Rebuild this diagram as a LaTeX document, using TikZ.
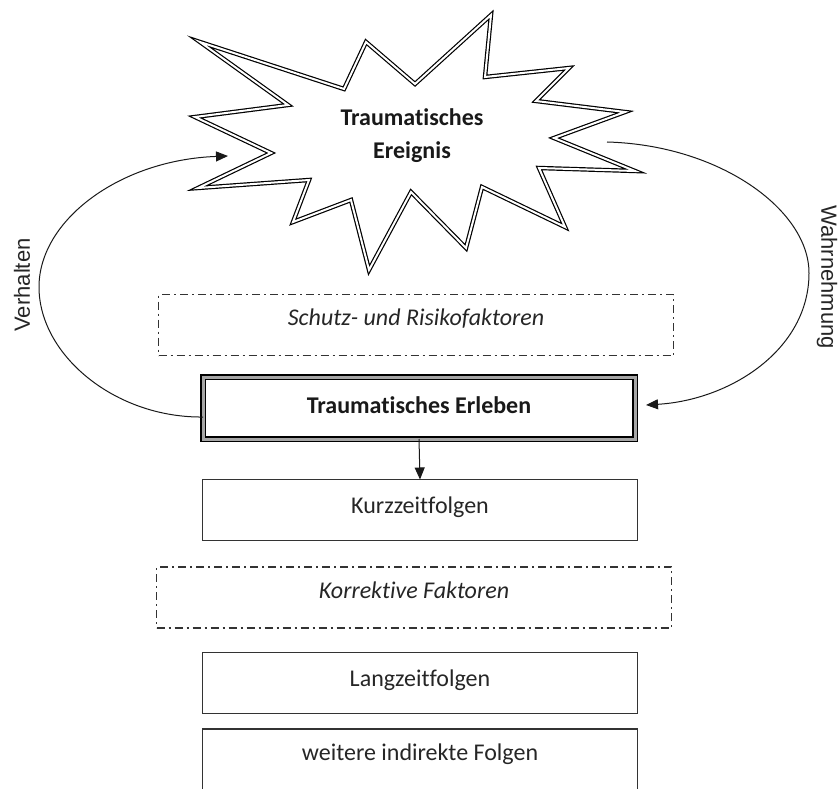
\documentclass[tikz,border=0pt]{standalone}
\usepackage{fontspec}
\setmainfont{Carlito}[Ligatures=CommonOff]
\newfontfamily\arialfont{Liberation Sans}
\usetikzlibrary{arrows.meta}
\begin{document}
\begin{tikzpicture}[x=1pt,y=-1pt,
  box/.style={draw=black!80, line width=1.3pt, minimum width=435pt, minimum height=61pt, inner sep=0pt, outer sep=0pt, text=black!85, font=\fontsize{24}{29}\selectfont, text depth=8pt},
  dashbox/.style={draw=black!80, line width=1.2pt, dash pattern=on 8pt off 4pt on 2pt off 4pt, minimum width=515pt, minimum height=61pt, inner sep=0pt, outer sep=0pt, text=black!85, font=\fontsize{24}{29}\selectfont\itshape, text depth=8pt},
  erlbox/.style={draw=black, line width=1.5pt, double=gray!70, double distance=3pt, fill=white, minimum width=432pt, minimum height=62pt, inner sep=0pt, outer sep=0pt, text=black!90, font=\fontsize{24}{29}\selectfont\bfseries, text depth=8pt},
  arr/.style={line width=1pt, draw=black!90, -{Triangle[length=12pt,width=10pt]}},
  side/.style={text=black!85, font=\arialfont\fontsize{22}{26}\selectfont, inner sep=0pt},
  starshape/.style={draw=black, line width=1.2pt, double=white, double distance=2pt, line join=miter, miter limit=12, fill=white},
  startext/.style={text=black!90, font=\fontsize{24}{33}\selectfont\bfseries, align=center, inner sep=0pt}
]
\useasboundingbox (0,0) rectangle (838,789);

% star
\draw[starshape] (200,42) -- (344,89) -- (366,42) -- (415,84) -- (491,15) -- (485,77)
  -- (569,68) -- (536,101) -- (625,112) -- (554,138) -- (635,171) -- (539,168)
  -- (565,227) -- (482,187) -- (466,248) -- (411,192) -- (369,270) -- (351,200)
  -- (293,222) -- (309,180) -- (198,188) -- (271,153) -- (195,117) -- (288,105) -- cycle;
\node[startext] (ereignis) at (412,136) {Traumatisches\\Ereignis};

% boxes
\node[dashbox, text height=8pt] (schutz) at (416,325) {Schutz- und Risikofaktoren};
\node[erlbox, text height=18pt] (erl) at (419,408) {Traumatisches Erleben};
\node[box, text height=14pt] (kurz) at (420,510) {Kurzzeitfolgen};
\node[dashbox, text height=9pt] (korr) at (414,597.5) {Korrektive Faktoren};
\node[box, text height=14pt] (lang) at (420,683) {Langzeitfolgen};
\node[box, text height=10pt] (weit) at (420,759.5) {weitere indirekte Folgen};

% side labels
\node[side, rotate=90] (verh) at (22,285) {Verhalten};
\node[side, rotate=-90] (wahr) at (827,277) {Wahrnehmung};

% connector ends on the star
\coordinate (vin) at (228,156);
\coordinate (wout) at (607,142);

% connectors
\draw[arr] (erl.south) -- (kurz.north);
\draw[arr] ([yshift=-9pt]erl.west) .. controls (115,418) and (39,355) .. (39,287)
  .. controls (39,220) and (120,160) .. (vin);
\draw[arr] (wout) .. controls (720,145) and (809,210) .. (809,273)
  .. controls (809,350) and (730,400) .. ([xshift=11pt,yshift=3pt]erl.east);
\end{tikzpicture}
\end{document}
